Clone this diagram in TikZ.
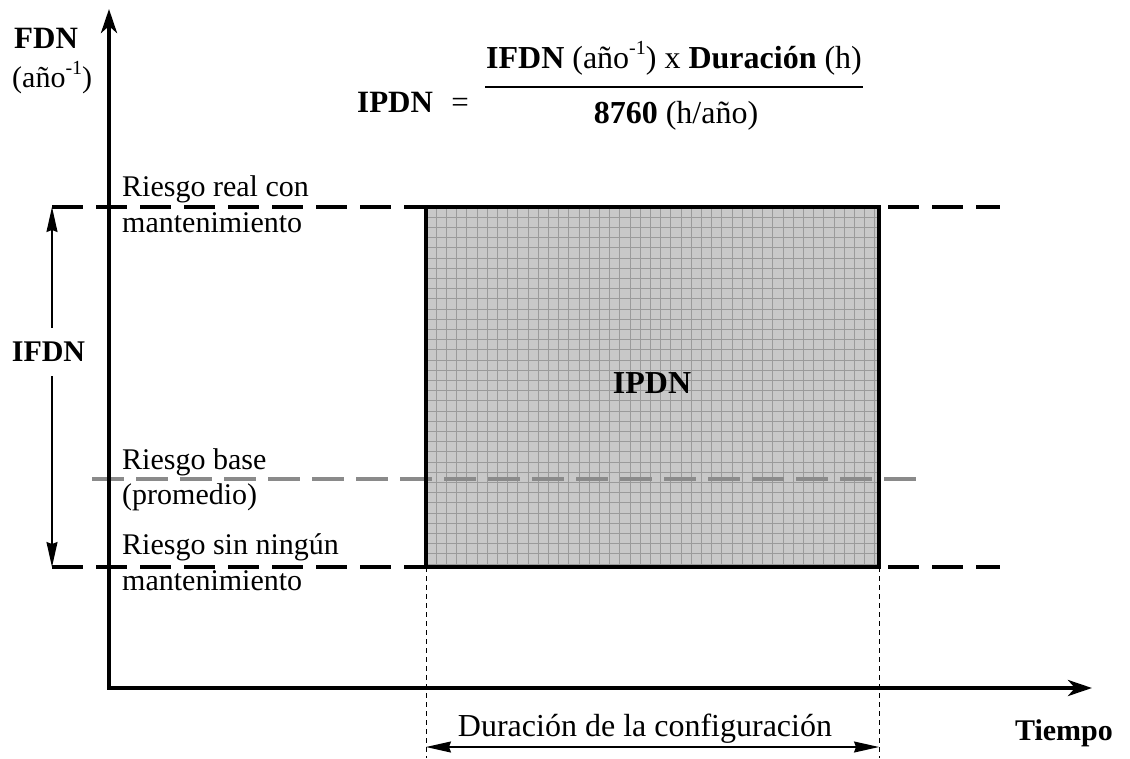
\documentclass[tikz,border=0pt]{standalone}
\usepackage{fontspec}
\setmainfont{Liberation Serif}
\usetikzlibrary{arrows.meta}
\definecolor{boxfill}{HTML}{C8C8C8}
\definecolor{gridcol}{HTML}{9A9A9A}
\definecolor{basecol}{HTML}{8A8A8A}
\newcommand{\supmone}{\raisebox{0.42em}{\fontsize{20}{20}\selectfont -1}}
\begin{document}
\begin{tikzpicture}[x=1pt,y=-1pt,
  font=\fontsize{30}{36}\selectfont,
  lbl/.style={inner sep=0pt},
  big/.style={font=\fontsize{32}{38}\selectfont},
  axisline/.style={line width=4pt,line join=miter,{Stealth[length=24pt,width=16pt,inset=7pt]}-{Stealth[length=24pt,width=16pt,inset=7pt]}},
  levelline/.style={line width=4pt,dash pattern=on 31pt off 13pt},
  baseline/.style={line width=3.2pt,basecol,dash pattern=on 32pt off 12pt},
  dimarrow/.style={line width=1.4pt,{Stealth[length=25pt,width=11pt,inset=2pt]}-{Stealth[length=25pt,width=11pt,inset=2pt]}},
  guide/.style={line width=0.9pt,dash pattern=on 5pt off 4pt},
]
\useasboundingbox (0,0) rectangle (1130,758);

% coordinates
\coordinate (ytip) at (109,9);
\coordinate (O) at (109,688);
\coordinate (xtip) at (1092,688);
\coordinate (topL) at (52,207);
\coordinate (topR) at (1000,207);
\coordinate (botL) at (52,567);
\coordinate (botR) at (1000,567);
\coordinate (baseL) at (92,479);
\coordinate (baseR) at (918,479);
\coordinate (rA) at (426,207);
\coordinate (rB) at (879,567);
\coordinate (gL) at (426,758);
\coordinate (gR) at (879,758);
\coordinate (dL) at (426,747);
\coordinate (dR) at (879,747);
\coordinate (fracL) at (485,87);
\coordinate (fracR) at (863,87);

% shaded box
\fill[boxfill] (rA) rectangle (rB);
\foreach \i in {1,...,44} {\draw[gridcol,line width=0.9pt] (426+10.2*\i,207) -- (426+10.2*\i,567);}
\foreach \j in {1,...,35} {\draw[gridcol,line width=0.9pt] (426,207+10.2*\j) -- (879,207+10.2*\j);}

% level lines
\draw[levelline] (topL) -- (topR);
\draw[levelline] (botL) -- (botR);
\draw[baseline] (baseL) -- (baseR);
\draw[line width=4pt,line join=miter] (rA) rectangle (rB);

% axes
\draw[axisline] (ytip) -- (O) -- (xtip);

% guides and duration arrow
\draw[guide] (rA |- botL) -- (gL);
\draw[guide] (rB) -- (gR);
\draw[dimarrow] (dL) -- (dR);

% IFDN arrow
\draw[dimarrow] (topL) -- (botL);
\node[lbl,fill=white,minimum height=48pt,minimum width=76pt] (ifdn) at (48.5,352) {\textbf{IFDN}};

% labels
\node[lbl,anchor=base west,font=\fontsize{31}{36}\selectfont] (fdn) at (14,48) {\textbf{FDN}};
\node[lbl,anchor=base west] (anio) at (12,87) {(año\supmone)};
\node[lbl,anchor=base west] (r1a) at (122,196) {Riesgo real con};
\node[lbl,anchor=base west] (r1b) at (122,232) {mantenimiento};
\node[lbl,anchor=base west] (r2a) at (122,469) {Riesgo base};
\node[lbl,anchor=base west] (r2b) at (122,504) {(promedio)};
\node[lbl,anchor=base west] (r3a) at (122,554) {Riesgo sin ningún};
\node[lbl,anchor=base west] (r3b) at (122,590) {mantenimiento};
\node[lbl,anchor=base,big] (ipdn) at (652,393) {\textbf{IPDN}};
\node[lbl,anchor=base,big] (dur) at (645,736) {Duración de la configuración};
\node[lbl,anchor=base] (tiempo) at (1064,740) {\textbf{Tiempo}};

% formula
\node[lbl,anchor=base west,font=\fontsize{31}{36}\selectfont] (fipdn) at (357,112) {\textbf{IPDN}};
\node[lbl,anchor=base,font=\fontsize{31}{36}\selectfont] (feq) at (460,112) {=};
\draw[line width=2pt] (fracL) -- (fracR);
\node[lbl,anchor=base,big] (fnum) at (674,68) {\textbf{IFDN} (año\supmone) x \textbf{Duración} (h)};
\node[lbl,anchor=base,big] (fden) at (676,123) {\textbf{8760} (h/año)};
\end{tikzpicture}
\end{document}
